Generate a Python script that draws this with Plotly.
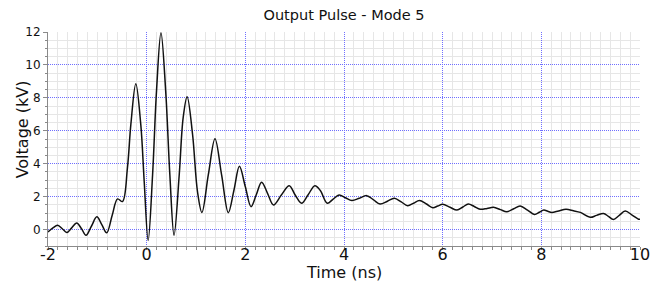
import plotly.graph_objects as go

# Time (ns) and voltage (kV)
time_ns = [-2.00, -1.90, -1.805, -1.71, -1.62, -1.52, -1.42, -1.32, -1.23, -1.12,
           -1.01, -0.91, -0.81, -0.70, -0.59, -0.49, -0.39, -0.32, -0.22, -0.12,
           -0.05, 0.03, 0.12, 0.20, 0.29, 0.385, 0.47, 0.555, 0.66, 0.74,
           0.82, 0.93, 1.03, 1.12, 1.25, 1.385, 1.52, 1.655, 1.77, 1.88,
           2.00, 2.115, 2.22, 2.33, 2.45, 2.57, 2.73, 2.89, 3.01, 3.14,
           3.27, 3.41, 3.52, 3.66, 3.78, 3.90, 4.03, 4.16, 4.31, 4.46,
           4.60, 4.73, 4.88, 5.02, 5.16, 5.29, 5.41, 5.53, 5.67, 5.80,
           5.90, 6.00, 6.15, 6.29, 6.41, 6.52, 6.64, 6.76, 6.90, 7.03,
           7.17, 7.30, 7.44, 7.57, 7.72, 7.86, 7.96, 8.05, 8.13, 8.21,
           8.35, 8.50, 8.65, 8.79, 8.99, 9.12, 9.26, 9.36, 9.46, 9.58,
           9.70, 9.84, 9.97, 10.0]
voltage_kv = [-0.15, 0.10, 0.26, 0.05, -0.18, 0.10, 0.40, 0.05, -0.35, 0.20,
              0.77, 0.30, -0.20, 0.85, 1.86, 1.70, 3.74, 6.40, 8.85, 6.40,
              2.92, -0.66, 3.33, 8.44, 11.95, 8.44, 3.33, -0.35, 3.33, 6.80,
              8.07, 5.79, 2.31, 1.04, 3.33, 5.52, 3.30, 1.02, 2.40, 3.84,
              2.60, 1.39, 2.10, 2.88, 2.20, 1.49, 2.10, 2.66, 2.10, 1.60,
              2.10, 2.66, 2.37, 1.60, 1.85, 2.10, 1.93, 1.76, 1.90, 2.06,
              1.80, 1.55, 1.72, 1.90, 1.68, 1.45, 1.60, 1.76, 1.55, 1.33,
              1.43, 1.53, 1.35, 1.18, 1.37, 1.55, 1.40, 1.23, 1.28, 1.35,
              1.21, 1.08, 1.26, 1.43, 1.18, 0.92, 1.05, 1.18, 1.11, 1.04,
              1.13, 1.23, 1.14, 1.04, 0.74, 0.86, 0.98, 0.80, 0.61, 0.86,
              1.12, 0.88, 0.63, 0.62]

x_ticks = [-2, 0, 2, 4, 6, 8, 10]
y_ticks = [0, 2, 4, 6, 8, 10, 12]

# minor grid positions (skipping the major ones)
x_minor = [round(i * 0.2, 2) for i in range(-10, 51) if i % 10 != 0]
y_minor = [i * 0.5 for i in range(-2, 25) if i % 4 != 0]

fig = go.Figure()
fig.add_trace(go.Scatter(
    x=time_ns, y=voltage_kv, mode="lines",
    line=dict(color="#111111", width=1.5, shape="spline", smoothing=1.0),
    showlegend=False, hoverinfo="skip",
))

major_grid = "#6f6fff"
minor_grid = "#e6e6e6"
axis_col = "#8a8a8a"
font_family = "DejaVu Sans, Verdana, sans-serif"

fig.update_layout(
    width=655, height=284,
    margin=dict(l=48, r=15, t=32, b=38),
    paper_bgcolor="white", plot_bgcolor="white",
    font=dict(family=font_family, color="#111111"),
    title=dict(text="Output Pulse - Mode 5", x=0.5, xref="paper", xanchor="center",
               y=1 - 15 / 284, yref="container", yanchor="middle",
               font=dict(size=14.5, family=font_family, color="#111111")),
)
fig.update_xaxes(
    range=[-2, 10], tickvals=x_ticks, ticktext=[str(v) for v in x_ticks],
    tickfont=dict(size=16), ticks="outside", ticklen=3, tickcolor=axis_col,
    ticklabelstandoff=-9,
    showline=True, linecolor=axis_col, linewidth=1,
    showgrid=True, gridcolor=major_grid, griddash="1px,1px", gridwidth=1,
    zeroline=False, automargin=False,
    minor=dict(tickvals=x_minor, showgrid=True, gridcolor=minor_grid, gridwidth=1,
               griddash="solid", ticks="outside", ticklen=3, tickcolor=axis_col),
)
fig.update_yaxes(
    range=[-1, 12], tickvals=y_ticks, ticktext=[str(v) for v in y_ticks],
    tickfont=dict(size=12), ticks="outside", ticklen=4, tickcolor=axis_col,
    showline=True, linecolor=axis_col, linewidth=1,
    showgrid=True, gridcolor=major_grid, griddash="1px,1px", gridwidth=1,
    zeroline=False, automargin=False,
    minor=dict(tickvals=y_minor, showgrid=True, gridcolor=minor_grid, gridwidth=1,
               griddash="solid", ticks="outside", ticklen=2, tickcolor=axis_col),
)

# axis titles placed as annotations for exact positioning
fig.add_annotation(text="Time (ns)", xref="paper", yref="paper", x=0.5, y=0,
                   xanchor="center", yanchor="middle", yshift=-26, showarrow=False,
                   font=dict(size=16, family=font_family, color="#111111"))
fig.add_annotation(text="Voltage (kV)", xref="paper", yref="paper", x=0, y=0.545,
                   xanchor="center", yanchor="middle", xshift=-26, textangle=-90,
                   showarrow=False,
                   font=dict(size=16, family=font_family, color="#111111"))

fig.write_html("out.html", config={"displayModeBar": False},
               post_script="document.body.style.margin='0';document.body.style.overflow='hidden';")
